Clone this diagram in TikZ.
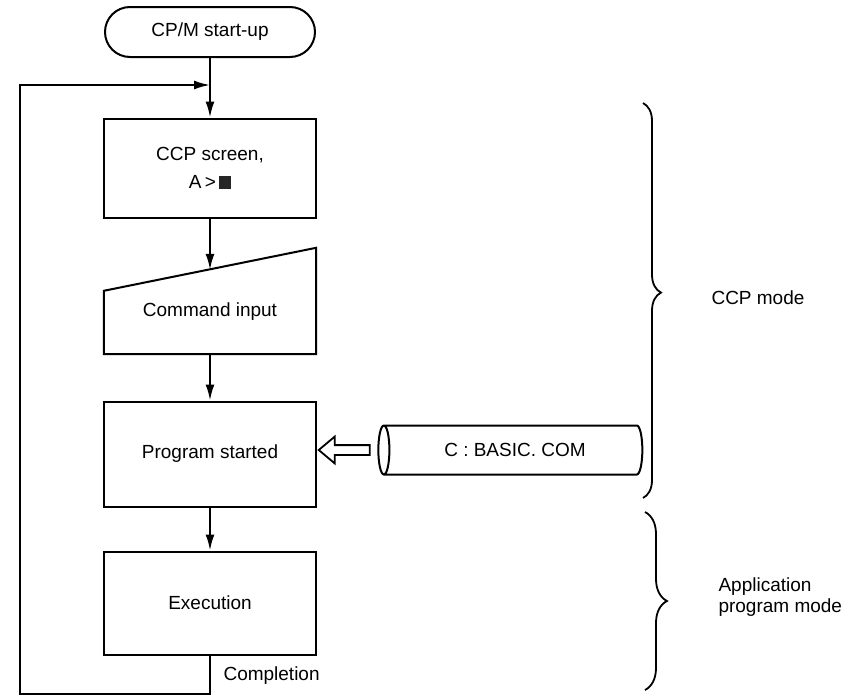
\documentclass[tikz,border=0pt]{standalone}
\usepackage{fontspec}
\setmainfont{Liberation Sans}
\usetikzlibrary{shapes.geometric,shapes.arrows,arrows.meta,decorations.pathreplacing,calc}
\tikzset{
  stepbox/.style={draw, line width=2pt, minimum width=212pt, align=center},
  flow/.style={line width=2pt, -{Latex[length=16pt,width=9pt]}},
  modebrace/.style={line width=1.8pt, decorate, decoration={brace, amplitude=#1}},
}
\newcommand{\cursorbox}{{\color{black!85}\rule[-1pt]{12pt}{13pt}}}

\begin{document}
\begin{tikzpicture}[x=1pt, y=-1pt, font=\fontsize{19}{21}\selectfont]
\useasboundingbox (0,0) rectangle (857,696);
% flow chart boxes
\node[stepbox, rounded corners=25pt, minimum width=210pt, minimum height=50pt] (start) at (210,32) {CP/M start-up};
\node[stepbox, minimum height=99pt] (ccp) at (210,168) {CCP screen,\\[7pt]A\,>\,\cursorbox};
\node[minimum width=212pt, minimum height=84pt] (cmd) at (210,312) {Command input};
\draw[line width=2pt] (cmd.south west) -- (cmd.south east) -- ([yshift=22pt]cmd.north east)
    -- ([yshift=-21pt]cmd.north west) -- cycle;
\node[stepbox, minimum height=105pt] (prog) at (210,454) {Program started};
\node[stepbox, minimum height=103pt] (exec) at (210,603) {Execution};
\node[cylinder, draw, line width=2pt, shape border rotate=180, aspect=0.55,
    minimum width=49pt, minimum height=264pt] (disk) at (515,450) {C : BASIC. COM};
\node[single arrow, draw, line width=1.8pt, shape border rotate=180, inner sep=4pt,
    single arrow head extend=8.5pt, single arrow tip angle=80, minimum height=51pt]
    (feed) at ($(prog.east |- disk.west)!0.5!(disk.west)$) {};
% connectors
\coordinate (join) at (210,85);
\coordinate (back) at (20,85);
\draw[flow] (start.south) -- (ccp.north);
\draw[flow] (ccp.south) -- (cmd.north);
\draw[flow] (cmd.south) -- (prog.north);
\draw[flow] (prog.south) -- (exec.north);
\draw[flow] (exec.south) -- ++(0,38) -| (back) -- (join);
\node[anchor=west] (done) at (220,676) {Completion};
% modes
\draw[modebrace=18pt, decoration={aspect=0.48}] (643,103) -- (643,498);
\draw[modebrace=22pt] (645,512) -- (645,690);
\node[anchor=west] (ccpmode) at (708,298) {CCP mode};
\node[anchor=west, align=left] (appmode) at (715,597) {Application\\program mode};
\end{tikzpicture}
\end{document}
